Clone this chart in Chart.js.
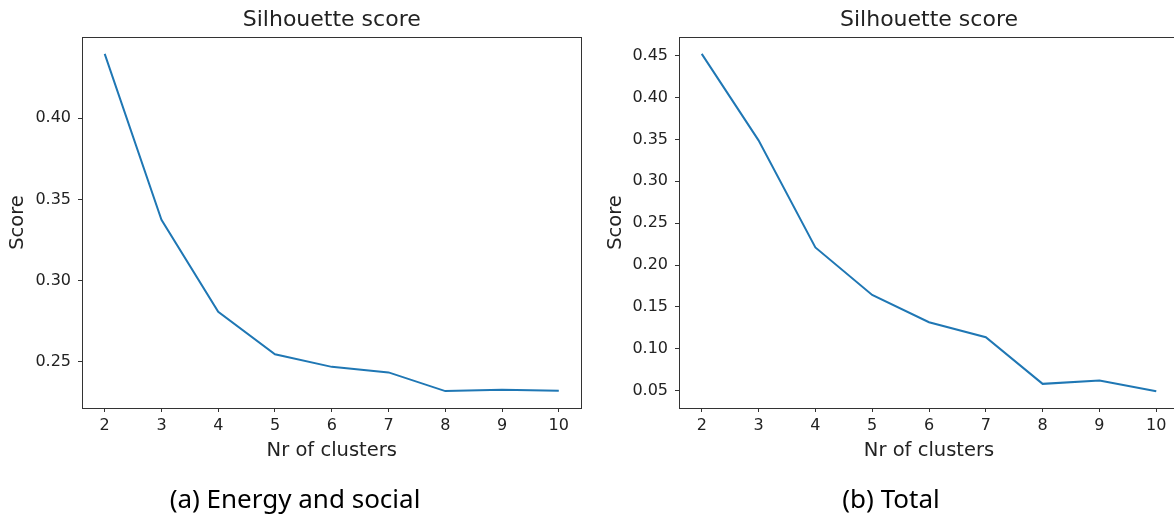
<!DOCTYPE html>
<html>
<head>
<meta charset="utf-8">
<script src="https://cdn.jsdelivr.net/npm/chart.js@4/dist/chart.umd.min.js"></script>
<style>
  html, body { margin: 0; padding: 0; background: #fff; }
  body { width: 1174px; height: 515px; overflow: hidden; position: relative; }
  canvas { position: absolute; top: 0; }
  #c1 { left: 0; }
  #c2 { left: 587px; }
  .cap { position: absolute; top: 480px; font-family: "Noto Sans", sans-serif; font-size: 26px; color: #000; white-space: nowrap; transform: translateX(-50%); line-height: 36px; }
</style>
</head>
<body>
<canvas id="c1" width="587" height="515"></canvas>
<canvas id="c2" width="600" height="515"></canvas>
<div class="cap" style="left:295px">(a) Energy and social</div>
<div class="cap" style="left:891px">(b) Total</div>
<script>
// ---- data ----
const clusters = [2, 3, 4, 5, 6, 7, 8, 9, 10];
const energySocialScore = [0.4395, 0.3374, 0.2809, 0.2547, 0.2470, 0.2436, 0.2321, 0.2329, 0.2323];
const totalScore = [0.4520, 0.3488, 0.2210, 0.1643, 0.1318, 0.1139, 0.0583, 0.0623, 0.0496];
const energySocialYTicks = [0.25, 0.30, 0.35, 0.40];
const totalYTicks = [0.05, 0.10, 0.15, 0.20, 0.25, 0.30, 0.35, 0.40, 0.45];
const xTicks = [2, 3, 4, 5, 6, 7, 8, 9, 10];
const chartTitle = "Silhouette score";
const xTitle = "Nr of clusters";
const yTitle = "Score";

const FONT = "'DejaVu Sans', sans-serif";
const TXT = '#222';
const LINE = '#1f77b4';

const framePlugin = {
  id: 'frame',
  afterDraw(chart) {
    const a = chart.chartArea, ctx = chart.ctx;
    ctx.save();
    ctx.strokeStyle = '#333';
    ctx.lineWidth = 1;
    ctx.strokeRect(Math.round(a.left) + 0.5, Math.round(a.top) + 0.5,
                   Math.round(a.right - a.left) - 1, Math.round(a.bottom - a.top));
    ctx.restore();
  }
};

function makeChart(id, values, yTicks, yMin, yMax, yAxisWidth, yTitlePad, rightPad) {
  return new Chart(document.getElementById(id), {
    type: 'line',
    data: {
      datasets: [{
        data: clusters.map((c, i) => ({ x: c, y: values[i] })),
        borderColor: LINE,
        borderWidth: 2,
        pointRadius: 0,
        fill: false,
        tension: 0
      }]
    },
    options: {
      responsive: false,
      animation: false,
      events: [],
      layout: { padding: { left: 0, right: rightPad, top: 0, bottom: 0 } },
      plugins: {
        legend: { display: false },
        tooltip: { enabled: false },
        title: {
          display: true,
          text: chartTitle,
          fullSize: false,
          color: TXT,
          font: { family: FONT, size: 22, weight: 'normal' },
          padding: { top: 7.3, bottom: 3.3 }
        }
      },
      scales: {
        x: {
          type: 'linear',
          min: 1.6, max: 10.4,
          border: { display: false },
          grid: { display: true, drawOnChartArea: false, drawTicks: true, tickLength: 4, tickColor: '#333', tickWidth: 1 },
          afterBuildTicks: s => { s.ticks = xTicks.map(v => ({ value: v })); },
          afterFit: s => { s.height = 107; },
          ticks: { color: TXT, font: { family: FONT, size: 16 }, padding: 4, maxRotation: 0, autoSkip: false,
                   callback: v => String(v) },
          title: { display: true, text: xTitle, color: TXT, font: { family: FONT, size: 19.5 }, padding: { top: 0, bottom: 52.8 } }
        },
        y: {
          type: 'linear',
          min: yMin, max: yMax,
          border: { display: false },
          grid: { display: true, drawOnChartArea: false, drawTicks: true, tickLength: 4, tickColor: '#333', tickWidth: 1 },
          afterBuildTicks: s => { s.ticks = yTicks.map(v => ({ value: v })); },
          afterFit: s => { s.width = yAxisWidth; },
          ticks: { color: TXT, font: { family: FONT, size: 16 }, padding: 7, autoSkip: false,
                   callback: v => Number(v).toFixed(2) },
          title: { display: true, text: yTitle, color: TXT, font: { family: FONT, size: 19.5 }, padding: { top: yTitlePad, bottom: 0 } }
        }
      }
    },
    plugins: [framePlugin]
  });
}

makeChart('c1', energySocialScore, energySocialYTicks, 0.2217, 0.4499, 82, 6.6, 5.5);
// right panel: plot area extends past the window edge as in the reference
makeChart('c2', totalScore, totalYTicks, 0.0295, 0.4721, 92, 17.1, 8);
</script>
</body>
</html>
